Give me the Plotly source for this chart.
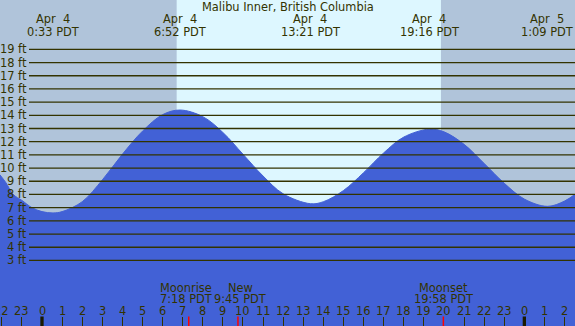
import plotly.graph_objects as go

# ---------------- data ----------------
title = "Malibu Inner, British Columbia"

# tide curve (hours from Apr 4 00:00 PDT, feet)
tide_hours = [-2.1, -1.8, -1.43, -1.0, -0.5, 0.0, 0.55, 1.0, 2.0, 3.0, 4.0, 5.0, 6.0, 6.87,
              8.0, 9.0, 10.0, 11.0, 12.0, 13.35, 14.0, 15.0, 16.0, 17.0, 18.0, 19.27,
              20.0, 21.0, 22.0, 23.0, 24.0, 25.15, 26.0, 26.6]
tide_feet = [9.5, 8.9, 8.0, 7.55, 7.0, 6.7, 6.6, 6.7, 7.45, 9.1, 11.05, 12.8, 14.05, 14.4,
             13.9, 12.7, 11.05, 9.4, 8.05, 7.3, 7.45, 8.3, 9.65, 11.15, 12.35, 12.95,
             12.75, 11.8, 10.35, 8.85, 7.65, 7.1, 7.5, 8.1]

# high / low tide labels along the top
extreme_hours = [0.55, 6.87, 13.35, 19.27, 25.15]
extreme_dates = ["Apr\u00a0\u00a04", "Apr\u00a0\u00a04", "Apr\u00a0\u00a04", "Apr\u00a0\u00a04", "Apr\u00a0\u00a05"]
extreme_times = ["0:33 PDT", "6:52 PDT", "13:21 PDT", "19:16 PDT", "1:09 PDT"]

# daylight
sunrise_hour = 6.7
sunset_hour = 19.85

# moon events
moon_hours = [7.3, 9.75, 19.97]
moon_names = ["Moonrise", "New", "Moonset"]
moon_times = ["7:18 PDT", "9:45 PDT", "19:58 PDT"]

# hour axis
hour_ticks = list(range(-2, 27))
hour_labels = [str(h % 24) for h in hour_ticks]
midnight_hours = [0, 24]

# feet axis
feet_ticks = list(range(3, 20))
feet_labels = [f"{v} ft" for v in feet_ticks]

x_range = [-2.09, 26.52]
y_range = [-1.97, 22.74]

# ---------------- style ----------------
W, H = 575, 326
night_col = "#b0c4da"
day_col = "#ddf7ff"
water_col = "#4261d6"
text_col = "#333300"
font_family = "DejaVu Sans, Verdana, sans-serif"
fs = 11.4
moon_label_shift = [-3, 2.5, 0]   # px nudges so adjacent labels don't collide


def py(pix):
    return 1 - pix / H


fig = go.Figure()

fig.add_trace(go.Scatter(x=x_range, y=[y_range[0] - 1] * 2, mode="lines",
                         line=dict(width=0, color=water_col), showlegend=False,
                         hoverinfo="skip"))
fig.add_trace(go.Scatter(x=tide_hours, y=tide_feet, mode="lines",
                         line=dict(color=water_col, width=1, shape="spline"),
                         fill="tonexty", fillcolor=water_col, showlegend=False))

shapes = []
# daylight band
shapes.append(dict(type="rect", xref="x", yref="paper", x0=sunrise_hour, x1=sunset_hour,
                   y0=0, y1=1, fillcolor=day_col, line=dict(width=0), layer="below"))
# feet grid lines
for v in feet_ticks:
    shapes.append(dict(type="line", xref="paper", yref="y", x0=29 / W, x1=1, y0=v, y1=v,
                       line=dict(color=text_col, width=1.3), layer="above"))
# midnight ticks
for h in midnight_hours:
    shapes.append(dict(type="line", xref="x", yref="paper", x0=h, x1=h, y0=0, y1=py(316.5),
                       line=dict(color="#1a1a00", width=3.3), layer="above"))
# moon event ticks
for h in moon_hours:
    shapes.append(dict(type="line", xref="x", yref="paper", x0=h, x1=h, y0=0, y1=py(316.5),
                       line=dict(color="#ff0000", width=1.5), layer="above"))

ann = []
ann.append(dict(text=title, x=0.5, xref="paper", y=py(7.5), yref="paper",
                showarrow=False, xanchor="center", yanchor="middle"))
for h, d, t in zip(extreme_hours, extreme_dates, extreme_times):
    ann.append(dict(text=d, x=h, xref="x", y=py(19.5), yref="paper", showarrow=False,
                    xanchor="center", yanchor="middle"))
    ann.append(dict(text=t, x=h, xref="x", y=py(32), yref="paper", showarrow=False,
                    xanchor="center", yanchor="middle"))
for v, lab in zip(feet_ticks, feet_labels):
    ann.append(dict(text=lab, x=27.5 / W, xref="paper", y=v, yref="y", showarrow=False,
                    xanchor="right", yanchor="middle"))
for h, n, t, s in zip(moon_hours, moon_names, moon_times, moon_label_shift):
    ann.append(dict(text=n, x=h, xref="x", y=py(287.7), yref="paper", showarrow=False,
                    xanchor="center", yanchor="middle", xshift=s))
    ann.append(dict(text=t, x=h, xref="x", y=py(299.3), yref="paper", showarrow=False,
                    xanchor="center", yanchor="middle", xshift=s))
for h, lab in zip(hour_ticks, hour_labels):
    ann.append(dict(text=lab, x=h, xref="x", y=py(311), yref="paper", showarrow=False,
                    xanchor="center", yanchor="middle"))

for a in ann:
    a["font"] = dict(family=font_family, size=fs, color=text_col)
    a["borderpad"] = 0

fig.update_layout(
    width=W, height=H, margin=dict(l=0, r=0, t=0, b=0),
    paper_bgcolor=night_col, plot_bgcolor=night_col,
    shapes=shapes, annotations=ann,
    xaxis=dict(range=x_range, showgrid=False, zeroline=False, showticklabels=False,
               tickmode="array", tickvals=hour_ticks, ticks="inside", ticklen=9.5,
               tickwidth=1, tickcolor=text_col, fixedrange=True),
    yaxis=dict(range=y_range, showgrid=False, zeroline=False, showticklabels=False,
               fixedrange=True),
    showlegend=False,
)

fig.write_html("out.html", config={"displayModeBar": False},
               post_script="document.body.style.margin='0';"
                           "document.body.style.padding='0';"
                           "document.body.style.overflow='hidden';")
